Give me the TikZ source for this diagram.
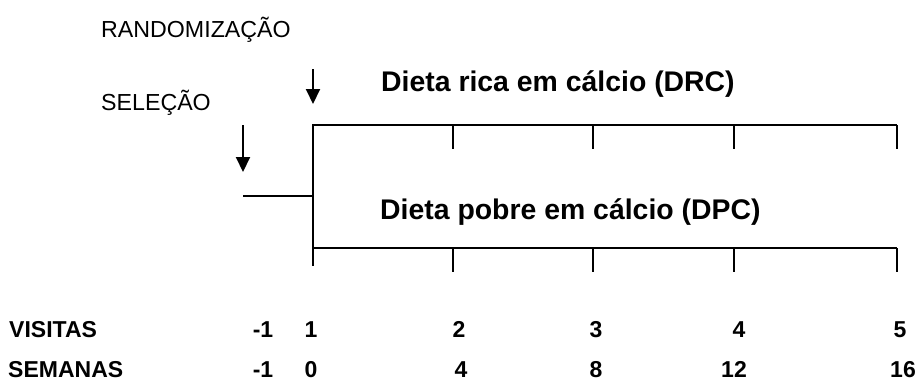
\documentclass[tikz,border=0pt]{standalone}
\usepackage{fontspec}
\setmainfont{Liberation Sans}
\usetikzlibrary{arrows.meta}
\begin{document}
\begin{tikzpicture}[x=1pt,y=-1pt,
 lbl/.style={anchor=base west, inner sep=0pt, font=\fontsize{23.2}{26}\selectfont},
 hdr/.style={anchor=base west, inner sep=0pt, font=\fontsize{28.4}{32}\selectfont\bfseries},
 rowlbl/.style={anchor=base west, inner sep=0pt, font=\fontsize{23}{26}\selectfont\bfseries},
 num/.style={anchor=base, inner sep=0pt, font=\fontsize{23}{26}\selectfont\bfseries},
 mainline/.style={line width=2.4pt},
 tickline/.style={line width=2pt},
 arr/.style={line width=2pt,-{Triangle[width=14pt,length=15pt]}}]
\useasboundingbox (0,0) rectangle (915,381);
% texts
\node[lbl] (rand) at (101,37) {RANDOMIZAÇÃO};
\node[lbl] (sel) at (101,110) {SELEÇÃO};
\node[hdr] (drc) at (381,91) {Dieta rica em cálcio (DRC)};
\node[hdr] (dpc) at (380,219) {Dieta pobre em cálcio (DPC)};
\node[rowlbl] (vis) at (9,337) {VISITAS};
\node[rowlbl] (sem) at (8,377) {SEMANAS};
\node[num] (v0) at (263,337) {-1};
\node[num] (v1) at (311,337) {1};
\node[num] (v2) at (459,337) {2};
\node[num] (v3) at (596,337) {3};
\node[num] (v4) at (739,337) {4};
\node[num] (v5) at (900,337) {5};
\node[num] (s0) at (263,377) {-1};
\node[num] (s1) at (311,377) {0};
\node[num] (s2) at (461,377) {4};
\node[num] (s3) at (596,377) {8};
\node[num] (s4) at (734,377) {12};
\node[num] (s5) at (903,377) {16};
% coordinates
\coordinate (tl) at (313,125);
\coordinate (tr) at (897,125);
\coordinate (bl) at (313,248);
\coordinate (br) at (897,248);
\coordinate (vb) at (313,266);
\coordinate (hl) at (243,196);
\coordinate (hr) at (313,196);
\coordinate (a1s) at (313,69);
\coordinate (a1e) at (313,104);
\coordinate (a2s) at (243,125);
\coordinate (a2e) at (243,172);
% lines
\draw[mainline] (tr) -- (tl) -- (vb);
\draw[mainline] (bl) -- (br);
\draw[mainline] (hl) -- (hr);
\foreach \x in {453,593,734,897}{
  \coordinate (tt\x) at (\x,125);
  \coordinate (tb\x) at (\x,149);
  \coordinate (bt\x) at (\x,248);
  \coordinate (bb\x) at (\x,272);
  \draw[tickline] (tt\x) -- (tb\x);
  \draw[tickline] (bt\x) -- (bb\x);
}
\draw[arr] (a1s) -- (a1e);
\draw[arr] (a2s) -- (a2e);
\end{tikzpicture}
\end{document}
